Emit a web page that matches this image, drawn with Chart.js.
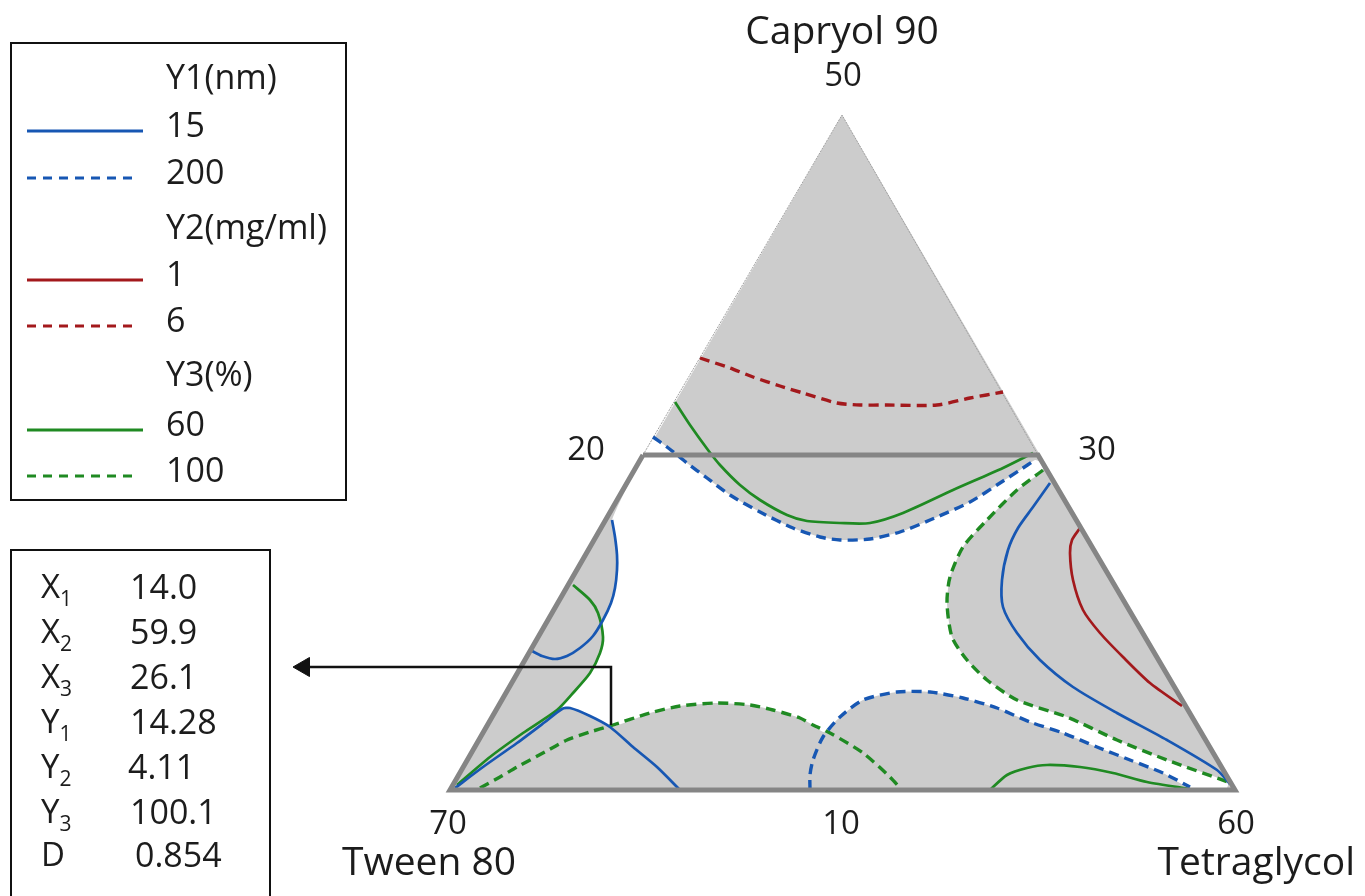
<!DOCTYPE html>
<html>
<head>
<meta charset="utf-8">
<script src="https://cdn.jsdelivr.net/npm/chart.js@4.4.0/dist/chart.umd.min.js"></script>
<style>
html, body { margin: 0; padding: 0; background: #fff; overflow: hidden; }
</style>
</head>
<body>
<canvas id="ternary" width="1365" height="896"></canvas>
<script>
// (frame x to the right, y downwards)
const outerTriangle = [[450, 790], [842, 115], [1235, 790], [450, 790]]
const upperEdges = [[643, 455], [842, 115], [1038, 455]]
const trapezoid = [[643, 455], [1038, 455], [1235, 790], [450, 790], [643, 455]]

// white (feasible) region
const whiteRegion = [[650, 440], [653, 437], [667, 447], [687, 463], [707, 478], [730, 495], [760, 512], [793, 528],
  [820, 537], [840, 540], [870, 539], [900, 532], [930, 520], [970, 502], [1000, 483], [1020, 470], [1035, 460],
  [1040, 462], [1043, 470], [1017, 490], [987, 520], [963, 547], [950, 577], [947, 603], [952, 637], [967, 660],
  [987, 680], [1017, 700], [1067, 717], [1117, 740], [1167, 760], [1228, 782], [1226, 789], [1190, 788],
  [1163, 773], [1130, 760], [1097, 747], [1063, 733], [1030, 722], [997, 708], [963, 698], [930, 692], [897, 692],
  [863, 700], [840, 717], [824, 732], [813, 725], [800, 718], [773, 710], [750, 705], [717, 703], [680, 706],
  [650, 713], [610, 727], [590, 716], [570, 708], [560, 710], [573, 693], [590, 673], [600, 653], [603, 637],
  [603, 620], [611, 603], [615, 588], [617, 570], [617, 555], [615, 537], [612, 520], [643, 455], [650, 440]]

// Y1 (nm) contours
const y1_15_left = [[612, 520], [615, 537], [617, 555], [617, 570], [615, 588], [611, 603], [603, 620], [593, 636],
  [580, 648], [567, 656], [555, 659], [542, 656], [532, 651]]
const y1_15_lower = [[455, 788], [483, 767], [517, 743], [545, 722], [562, 709], [570, 708], [590, 716], [610, 727],
  [633, 747], [657, 767], [680, 790]]
const y1_15_right = [[1050, 483], [1033, 507], [1018, 528], [1008, 550], [1002, 580], [1003, 607], [1017, 633],
  [1040, 660], [1073, 687], [1117, 713], [1167, 740], [1217, 770], [1230, 784]]
const y1_200_top = [[653, 437], [667, 447], [687, 463], [707, 478], [730, 495], [760, 512], [793, 528], [820, 537],
  [840, 540], [870, 539], [900, 532], [930, 520], [970, 502], [1000, 483], [1020, 470], [1035, 460]]
const y1_200_lower = [[810, 790], [810, 775], [813, 760], [823, 737], [840, 717], [863, 700], [897, 692], [930, 692],
  [963, 698], [997, 708], [1030, 722], [1063, 733], [1097, 747], [1130, 760], [1163, 773], [1190, 787]]

// Y2 (mg/ml) contours
const y2_1 = [[1080, 528], [1072, 540], [1070, 553], [1073, 580], [1083, 610], [1100, 633], [1123, 657], [1150, 683],
  [1182, 706]]
const y2_6 = [[700, 358], [730, 368], [753, 377], [780, 386], [803, 393], [837, 403], [860, 405], [887, 405],
  [937, 405], [970, 398], [1003, 392]]

// Y3 (%) contours
const y3_60_top = [[675, 402], [690, 425], [708, 450], [720, 465], [740, 485], [760, 500], [787, 515], [807, 521],
  [840, 523], [870, 523], [903, 513], [953, 490], [1003, 468], [1033, 453]]
const y3_60_left = [[573, 585], [590, 600], [598, 613], [603, 637], [600, 653], [590, 673], [573, 693], [557, 710],
  [523, 733], [490, 757], [457, 785]]
const y3_60_lower = [[990, 790], [1007, 775], [1027, 768], [1047, 765], [1080, 767], [1113, 773], [1147, 782], [1190, 789]]
const y3_100_right = [[1043, 470], [1017, 490], [987, 520], [963, 547], [950, 577], [947, 603], [952, 637], [967, 660],
  [987, 680], [1017, 700], [1067, 717], [1117, 740], [1167, 760], [1228, 782]]
const y3_100_lower = [[480, 788], [500, 777], [517, 767], [545, 752], [567, 740], [590, 732], [610, 726], [650, 713],
  [680, 706], [717, 703], [750, 705], [773, 710], [800, 718], [813, 725], [830, 733], [863, 753], [890, 777], [902, 790]]

// optimum point callout
const arrowPath = [[611, 725], [611, 667], [304, 667]]

// legend / result table text
const legendLabels = ['Y1(nm)', '15', '200', 'Y2(mg/ml)', '1', '6', 'Y3(%)', '60', '100']
const resultNames = ['X', 'X', 'X', 'Y', 'Y', 'Y', 'D']
const resultSubs = ['1', '2', '3', '1', '2', '3', '']
const resultValues = ['14.0', '59.9', '26.1', '14.28', '4.11', '100.1', '0.854']
const vertexNames = ['Capryol 90', 'Tween 80', 'Tetraglycol']
const vertexTicks = ['50', '20', '30', '70', '10', '60']

const BLUE = '#1757b3'
const RED = '#a3191c'
const GREEN = '#1f8a22'
const FONT = "'Open Sans', 'Noto Sans', sans-serif"

const pts = arr => arr.map(p => ({ x: p[0], y: p[1] }))

const contour = (data, color, dashed) => ({
    data: pts(data),
    borderColor: color,
    borderWidth: dashed ? 3.4 : 2.7,
    borderDash: dashed ? [10, 6] : [],
    pointRadius: 0,
    tension: 0.25,
    fill: false,
    order: 5
})

const datasets = [
    { data: pts(outerTriangle), borderWidth: 0, backgroundColor: '#cccccc', fill: 'shape', pointRadius: 0, tension: 0, order: 20 },
    { data: pts(whiteRegion), borderWidth: 0, backgroundColor: '#ffffff', fill: 'shape', pointRadius: 0, tension: 0.2, order: 19 },
    { data: pts(upperEdges), borderColor: '#a0a0a0', borderWidth: 1, borderDash: [2, 1], pointRadius: 0, fill: false, tension: 0, order: 18 },
    contour(y1_15_left, BLUE, false),
    contour(y1_15_lower, BLUE, false),
    contour(y1_15_right, BLUE, false),
    contour(y1_200_top, BLUE, true),
    contour(y1_200_lower, BLUE, true),
    contour(y2_1, RED, false),
    contour(y2_6, RED, true),
    contour(y3_60_top, GREEN, false),
    contour(y3_60_left, GREEN, false),
    contour(y3_60_lower, GREEN, false),
    contour(y3_100_right, GREEN, true),
    contour(y3_100_lower, GREEN, true),
    { data: pts(trapezoid), borderColor: '#858585', borderWidth: 5, pointRadius: 0, fill: false, tension: 0, order: 2 },
    {
        data: pts(arrowPath), borderColor: '#111', borderWidth: 2.5, tension: 0, fill: false, order: 1,
        pointStyle: 'triangle', pointRadius: [0, 0, 11], pointRotation: -90,
        pointBackgroundColor: '#111', pointBorderColor: '#111', pointBorderWidth: 1
    }
]

// text, legend and result box
const annotations = {
    id: 'annotations',
    afterDatasetsDraw(chart) {
        const ctx = chart.ctx
        ctx.save()
        ctx.fillStyle = '#1c1c1c'
        ctx.textBaseline = 'middle'

        ctx.font = `39px ${FONT}`
        ctx.textAlign = 'center'
        ctx.fillText(vertexNames[0], 842, 33)
        ctx.textAlign = 'left'
        ctx.fillText(vertexNames[1], 342, 864)
        ctx.textAlign = 'right'
        ctx.fillText(vertexNames[2], 1355, 864)

        ctx.font = `33px ${FONT}`
        ctx.textAlign = 'center'
        const tickPos = [[843, 77], [586, 451], [1097, 451], [448, 825], [841, 825], [1236, 825]]
        vertexTicks.forEach((t, i) => ctx.fillText(t, tickPos[i][0], tickPos[i][1]))

        // legend
        ctx.strokeStyle = '#111'
        ctx.lineWidth = 2
        ctx.strokeRect(11, 43, 335, 457)
        const rowY = [79, 127, 174, 229, 276, 322, 376, 426, 472]
        const sample = [null, [BLUE, []], [BLUE, [9, 7]], null, [RED, []], [RED, [9, 7]], null, [GREEN, []], [GREEN, [9, 7]]]
        ctx.font = `34px ${FONT}`
        ctx.textAlign = 'left'
        legendLabels.forEach((t, i) => {
            ctx.fillStyle = '#1c1c1c'
            ctx.fillText(t, 166, rowY[i])
            if (sample[i]) {
                ctx.beginPath()
                ctx.strokeStyle = sample[i][0]
                ctx.lineWidth = 3
                ctx.setLineDash(sample[i][1])
                ctx.moveTo(27, rowY[i] + 4)
                ctx.lineTo(sample[i][1].length ? 137 : 143, rowY[i] + 4)
                ctx.stroke()
                ctx.setLineDash([])
            }
        })

        // optimum result box
        ctx.strokeStyle = '#111'
        ctx.lineWidth = 2
        ctx.strokeRect(11, 550, 259, 360)
        const resY = [589, 634, 679, 724, 769, 814, 857]
        const valX = [130, 130, 130, 130, 128, 130, 135]
        resultNames.forEach((n, i) => {
            ctx.fillStyle = '#1c1c1c'
            ctx.font = `33px ${FONT}`
            ctx.fillText(n, 41, resY[i])
            const w = ctx.measureText(n).width
            ctx.font = `21px ${FONT}`
            ctx.fillText(resultSubs[i], 41 + w, resY[i] + 11)
            ctx.font = `34px ${FONT}`
            ctx.fillText(resultValues[i], valX[i], resY[i])
        })
        ctx.restore()
    }
}

new Chart(document.getElementById('ternary'), {
    type: 'line',
    data: { datasets },
    options: {
        responsive: false,
        animation: false,
        events: [],
        layout: { padding: 0, autoPadding: false },
        plugins: { legend: { display: false }, tooltip: { enabled: false } },
        scales: {
            x: { type: 'linear', min: 0, max: 1365, display: false },
            y: { type: 'linear', min: 0, max: 896, reverse: true, display: false }
        }
    },
    plugins: [annotations]
})
</script>
</body>
</html>
